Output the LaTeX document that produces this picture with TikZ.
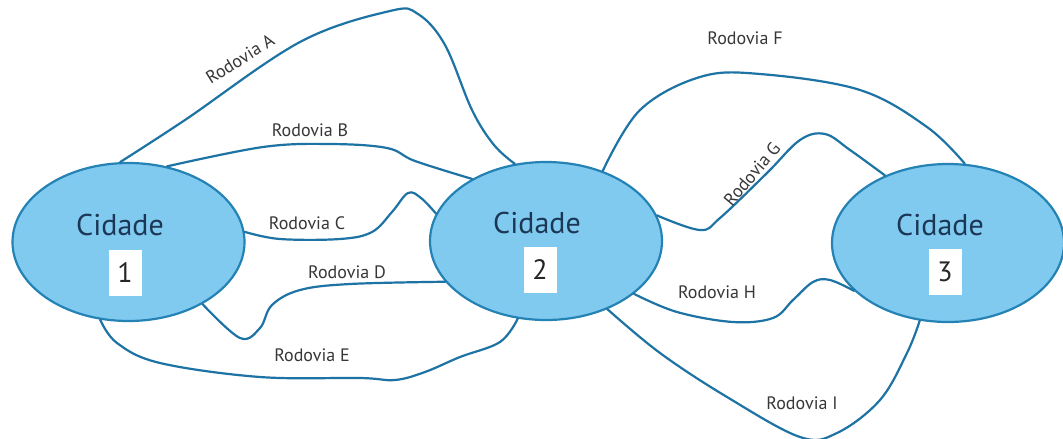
\documentclass[tikz,border=0pt]{standalone}
\usepackage{fontspec}
\setmainfont{PT Sans}
\usetikzlibrary{shapes.geometric}
\definecolor{cityfill}{RGB}{128,202,240}
\definecolor{cityline}{RGB}{36,130,180}
\definecolor{road}{RGB}{30,115,165}
\definecolor{citytext}{RGB}{28,55,85}
\definecolor{labeltext}{RGB}{55,55,55}
\tikzset{
  city/.style={ellipse, draw=cityline, fill=cityfill, line width=2.2pt,
    minimum width=232pt, minimum height=158pt, inner sep=0pt},
  ctext/.style={font=\fontsize{30}{34}\selectfont, text=citytext, inner sep=0pt},
  numbox/.style={fill=white, minimum width=33pt, minimum height=46pt, inner sep=0pt,
    font=\fontsize{28}{32}\selectfont, text=black!85},
  roadline/.style={draw=road, line width=2.2pt, line cap=round, line join=round},
  rlabel/.style={font=\fontsize{18}{20}\selectfont, text=labeltext, inner sep=0pt}
}
\begin{document}
\begin{tikzpicture}[x=1pt,y=-1pt]
\useasboundingbox[fill=white] (0,0) rectangle (1063,439);
% cities
\node[city] (c1) at (128.5,242) {};
\node[city] (c2) at (546,241) {};
\node[city] (c3) at (948,243) {};
% roads
\draw[roadline] plot[smooth, tension=0.6] coordinates {(c1.96) (185,120) (300,42) (390,11) (418,14) (445,45) (472,110) (494,145) (c2.112)};
\draw[roadline] plot[smooth, tension=0.6] coordinates {(c1.63) (263,147) (330,144) (387,148) (415,161) (c2.140)};
\draw[roadline] plot[smooth, tension=0.6] coordinates {(c1.5) (280,239) (340,239) (372,232) (392,212) (408,193) (421,198) (c2.166)};
\draw[roadline] plot[smooth, tension=0.6] coordinates {(c1.-40) (240,338) (260,328) (272,305) (300,290) (350,284) (c2.202)};
\draw[roadline] plot[smooth, tension=0.6] coordinates {(c1.250) (117,343) (160,363) (260,377) (360,378) (395,380) (425,372) (460,357) (500,342) (c2.250)};
\draw[roadline] plot[smooth, tension=0.6] coordinates {(c2.51) (640,110) (700,77) (760,74) (860,90) (927,127) (c3.78)};
\draw[roadline] plot[smooth, tension=0.6] coordinates {(c2.13) (700,230) (720,218) (767,173) (800,140) (825,134) (850,150) (c3.133)};
\draw[roadline] plot[smooth, tension=0.6] coordinates {(c2.-31) (677,312) (733,322) (773,318) (793,300) (813,282) (830,280) (c3.207)};
\draw[roadline] plot[smooth, tension=0.6] coordinates {(c2.-48) (660,353) (727,397) (800,437) (837,433) (880,400) (907,353) (c3.-110)};
% city texts
\node[ctext] (t1) at (120,225) {Cidade};
\node[numbox] (n1) at (125,273) {1};
\node[ctext] (t2) at (537,223) {Cidade};
\node[numbox] (n2) at (540,270) {2};
\node[ctext] (t3) at (940,225) {Cidade};
\node[numbox] (n3) at (945,272) {3};
% road labels
\node[rlabel, rotate=32] (la) at (240,59) {Rodovia A};
\node[rlabel] (lb) at (310,130) {Rodovia B};
\node[rlabel] (lc) at (307,223) {Rodovia C};
\node[rlabel] (ld) at (347,272) {Rodovia D};
\node[rlabel] (le) at (312,355) {Rodovia E};
\node[rlabel] (lf) at (745,38) {Rodovia F};
\node[rlabel, rotate=50] (lg) at (752,174) {Rodovia G};
\node[rlabel] (lh) at (717,292) {Rodovia H};
\node[rlabel] (li) at (802,403) {Rodovia I};
\end{tikzpicture}
\end{document}
